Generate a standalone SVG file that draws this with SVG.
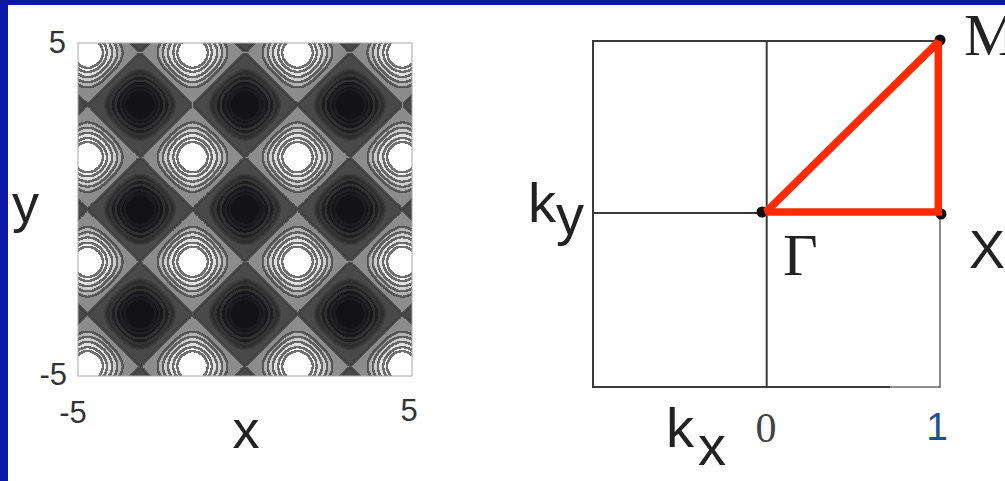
<svg xmlns="http://www.w3.org/2000/svg" width="1005" height="481" viewBox="0 0 1005 481">
<style>
.sans{font-family:"Liberation Sans",Arial,sans-serif;fill:#222}
.serif{font-family:"Liberation Serif","Times New Roman",serif;fill:#222}
.tick{font-size:31px;fill:#333}
.big{font-size:54px}
.bz{fill:none;stroke:#3a3a3a;stroke-width:2}
.dot{fill:#111}
</style>
<defs>
<linearGradient id="gx" gradientUnits="userSpaceOnUse" x1="245" y1="0" x2="349.93" y2="0" spreadMethod="repeat">
<stop offset="0" stop-color="rgb(0%,0%,0%)"/>
<stop offset="0.041667" stop-color="rgb(1.704%,1.704%,1.704%)"/>
<stop offset="0.083333" stop-color="rgb(6.699%,6.699%,6.699%)"/>
<stop offset="0.125" stop-color="rgb(14.645%,14.645%,14.645%)"/>
<stop offset="0.166667" stop-color="rgb(25%,25%,25%)"/>
<stop offset="0.208333" stop-color="rgb(37.059%,37.059%,37.059%)"/>
<stop offset="0.25" stop-color="rgb(50%,50%,50%)"/>
<stop offset="0.291667" stop-color="rgb(62.941%,62.941%,62.941%)"/>
<stop offset="0.333333" stop-color="rgb(75%,75%,75%)"/>
<stop offset="0.375" stop-color="rgb(85.355%,85.355%,85.355%)"/>
<stop offset="0.416667" stop-color="rgb(93.301%,93.301%,93.301%)"/>
<stop offset="0.458333" stop-color="rgb(98.296%,98.296%,98.296%)"/>
<stop offset="0.5" stop-color="rgb(100%,100%,100%)"/>
<stop offset="0.541667" stop-color="rgb(98.296%,98.296%,98.296%)"/>
<stop offset="0.583333" stop-color="rgb(93.301%,93.301%,93.301%)"/>
<stop offset="0.625" stop-color="rgb(85.355%,85.355%,85.355%)"/>
<stop offset="0.666667" stop-color="rgb(75%,75%,75%)"/>
<stop offset="0.708333" stop-color="rgb(62.941%,62.941%,62.941%)"/>
<stop offset="0.75" stop-color="rgb(50%,50%,50%)"/>
<stop offset="0.791667" stop-color="rgb(37.059%,37.059%,37.059%)"/>
<stop offset="0.833333" stop-color="rgb(25%,25%,25%)"/>
<stop offset="0.875" stop-color="rgb(14.645%,14.645%,14.645%)"/>
<stop offset="0.916667" stop-color="rgb(6.699%,6.699%,6.699%)"/>
<stop offset="0.958333" stop-color="rgb(1.704%,1.704%,1.704%)"/>
<stop offset="1" stop-color="rgb(0%,0%,0%)"/>
</linearGradient>
<linearGradient id="gy" href="#gx" xlink:href="#gx" xmlns:xlink="http://www.w3.org/1999/xlink" gradientUnits="userSpaceOnUse" x1="0" y1="209.5" x2="0" y2="314.11" spreadMethod="repeat"/>
<clipPath id="plotclip"><rect x="78" y="43" width="334" height="333"/></clipPath>
<filter id="contour" filterUnits="userSpaceOnUse" x="66" y="31" width="358" height="357" color-interpolation-filters="sRGB">
<feGaussianBlur in="SourceGraphic" stdDeviation="0.8" result="s"/>
<feComponentTransfer in="s" result="q">
<feFuncR type="discrete" tableValues="0.078 0.078 0.078 0.078 0.086 0.086 0.098 0.098 0.098 0.122 0.122 0.122 0.18 0.18 0.18 0.29 0.29 0.29 0.29 0.29 0.55 0.55 0.55 0.55 0.55 0.70 0.70 0.70 0.80 0.80 0.80 0.88 0.88 0.88 0.95 0.95 1 1 1 1"/>
<feFuncG type="discrete" tableValues="0.078 0.078 0.078 0.078 0.086 0.086 0.098 0.098 0.098 0.122 0.122 0.122 0.18 0.18 0.18 0.29 0.29 0.29 0.29 0.29 0.55 0.55 0.55 0.55 0.55 0.70 0.70 0.70 0.80 0.80 0.80 0.88 0.88 0.88 0.95 0.95 1 1 1 1"/>
<feFuncB type="discrete" tableValues="0.086 0.086 0.086 0.086 0.094 0.094 0.106 0.106 0.106 0.128 0.128 0.128 0.184 0.184 0.184 0.29 0.29 0.29 0.29 0.29 0.55 0.55 0.55 0.55 0.55 0.70 0.70 0.70 0.80 0.80 0.80 0.88 0.88 0.88 0.95 0.95 1 1 1 1"/>
</feComponentTransfer>
<feMorphology in="q" operator="dilate" radius="1" result="d"/>
<feMorphology in="q" operator="erode" radius="1" result="e"/>
<feColorMatrix in="d" type="matrix" values="0 0 0 0 0  0 0 0 0 0  0 0 0 0 0  1 0 0 0 0" result="dA"/>
<feColorMatrix in="e" type="matrix" values="0 0 0 0 0  0 0 0 0 0  0 0 0 0 0  1 0 0 0 0" result="eA"/>
<feComposite in="dA" in2="eA" operator="arithmetic" k1="0" k2="1" k3="-1" k4="0" result="diff"/>
<feComponentTransfer in="diff" result="mask"><feFuncA type="linear" slope="40" intercept="0"/></feComponentTransfer>
<feFlood flood-color="#3a3a3a" flood-opacity="0.72" result="ink"/>
<feComposite in="ink" in2="mask" operator="in" result="lines"/>
<feMerge result="m"><feMergeNode in="q"/><feMergeNode in="lines"/></feMerge>
<feGaussianBlur in="m" stdDeviation="0.7"/>
</filter>
</defs>
<rect x="0" y="0" width="1005" height="481" fill="#fff"/>
<rect x="0" y="0" width="1005" height="5" fill="#0a1aa6"/>
<rect x="0" y="0" width="8" height="481" fill="#0a1aa6"/>

<g id="contour-plot">
<g clip-path="url(#plotclip)">
<g filter="url(#contour)">
<rect x="60" y="25" width="370" height="370" fill="url(#gx)"/>
<rect x="60" y="25" width="370" height="370" fill="url(#gy)" opacity="0.5"/>
</g>
</g>
<rect x="78" y="43" width="334" height="333" fill="none" stroke="#a8a8a8" stroke-width="1"/>
<text class="sans tick" x="66" y="53" text-anchor="end">5</text>
<text class="sans tick" x="67" y="385" text-anchor="end">-5</text>
<text class="sans tick" x="73" y="423" text-anchor="middle">-5</text>
<text class="sans tick" x="409" y="421" text-anchor="middle">5</text>
<text class="sans big" x="246" y="448" text-anchor="middle">x</text>
<text class="sans big" x="12" y="222">y</text>
</g>

<g id="brillouin-zone">
<line class="bz" x1="593" y1="41" x2="939" y2="41"/>
<line class="bz" x1="593" y1="40" x2="593" y2="388"/>
<line class="bz" x1="593" y1="387" x2="890" y2="387"/>
<line x1="890" y1="387" x2="940" y2="387" stroke="#666" stroke-width="1.6"/>
<line x1="940" y1="213" x2="940" y2="388" stroke="#707070" stroke-width="1.6"/>
<line class="bz" x1="766.7" y1="41" x2="766.7" y2="387"/>
<line class="bz" x1="593" y1="213" x2="766" y2="213"/>
</g>

<g id="connectors">
<circle class="dot" cx="762" cy="212" r="5.5"/>
<circle class="dot" cx="940" cy="40" r="5.5"/>
<circle class="dot" cx="941" cy="214" r="5.5"/>
<path d="M766,212 L938.3,42 L938.3,212 Z" fill="none" stroke="#ff2a00" stroke-width="7.5" stroke-linejoin="miter" stroke-miterlimit="2"/>
</g>

<g id="labels">
<text class="sans" font-size="56" x="528" y="222">k<tspan dy="12">y</tspan></text>
<text class="sans" font-size="56" x="666" y="447">k<tspan dx="4" dy="18">x</tspan></text>
<text class="serif" font-size="60" x="783" y="275">Γ</text>
<text class="serif" font-size="60" x="964" y="55">M</text>
<text class="sans" font-size="54" x="969" y="268">X</text>
<text class="serif" font-size="42" x="766" y="442" text-anchor="middle" style="fill:#444">0</text>
<text class="sans" font-size="39" x="937" y="440" text-anchor="middle" style="fill:#1c4f8c">1</text>
</g>
</svg>
